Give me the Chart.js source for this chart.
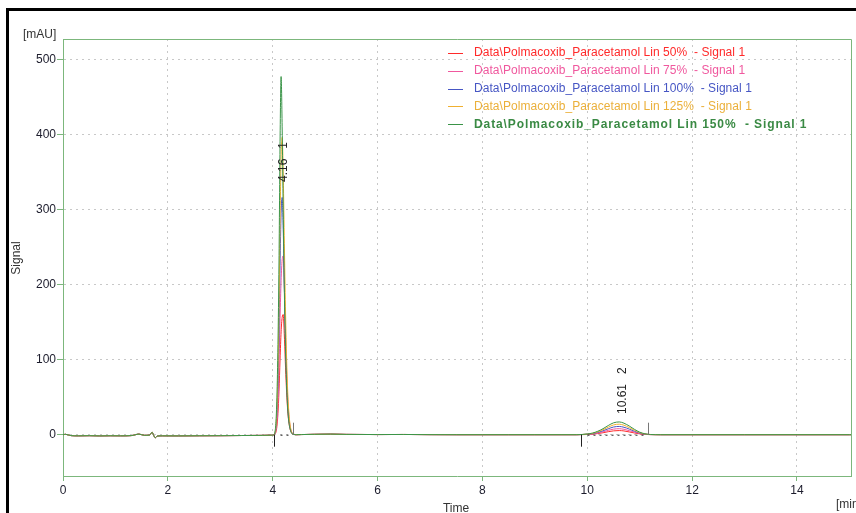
<!DOCTYPE html>
<html>
<head>
<meta charset="utf-8">
<script src="https://cdn.jsdelivr.net/npm/chart.js@4/dist/chart.umd.min.js"></script>
<style>
html,body{margin:0;padding:0;background:#fff;}
#wrap{width:856px;height:513px;position:relative;}
</style>
</head>
<body>
<div id="wrap"><canvas id="c" width="856" height="513"></canvas></div>
<script>
// ---- data ----
const seriesNames = [
  "Data\\Polmacoxib_Paracetamol Lin 50%  - Signal 1",
  "Data\\Polmacoxib_Paracetamol Lin 75%  - Signal 1",
  "Data\\Polmacoxib_Paracetamol Lin 100%  - Signal 1",
  "Data\\Polmacoxib_Paracetamol Lin 125%  - Signal 1",
  "Data\\Polmacoxib_Paracetamol Lin 150%  - Signal 1"
];
const seriesColors = ["#ff2a2a", "#f0589e", "#4656c4", "#f0b030", "#3a9448"];
const legendTextColors = ["#ff2a2a", "#f0589e", "#4656c4", "#ebb03a", "#3a8a44"];

const timesEarly = [0, 0.05, 0.15, 0.3, 0.5, 0.7, 0.9, 1.1, 1.3, 1.45, 1.55, 1.65, 1.7, 1.73, 1.76, 1.8, 1.9, 2.2, 2.6, 3.0, 3.4, 3.8, 3.98];
const baseEarly  = [0, 0.5, -1.2, -1.5, -1.3, -1.6, -1.4, -1.5, -1.2, 0.8, -0.8, -0.5, 3.2, -1, -4, -1.8, -1.5, -1.6, -1.4, -1.3, -1.1, -0.9, -0.6];

const timesPeak1 = [4.00, 4.02, 4.04, 4.06, 4.08, 4.10, 4.12, 4.14, 4.16, 4.18, 4.20, 4.22, 4.24, 4.26, 4.28, 4.30, 4.33, 4.36, 4.40, 4.45];
const peak1Red    = [-0.5, -0.3, 0.5, 3, 11, 28, 58, 100, 137, 156, 160, 135, 98, 64, 38, 21, 8, 2.5, 0.4, 0];
const peak1Pink   = [-0.5, -0.2, 1, 5, 18, 45, 92, 155, 205, 233, 238, 200, 145, 95, 57, 32, 12, 3.5, 0.6, 0];
const peak1Blue   = [-0.5, 0, 1.5, 8, 28, 68, 135, 225, 295, 316, 275, 205, 138, 86, 50, 27, 10, 3, 0.5, 0];
const peak1Yellow = [-0.5, 0, 2, 10, 35, 85, 170, 280, 370, 396, 350, 265, 180, 115, 68, 38, 14, 4, 1, 0];
const peak1Green  = [-0.5, 0, 3, 15, 50, 120, 230, 390, 477, 410, 300, 200, 125, 75, 42, 22, 8, 2, 0.3, 0];

const timesMid = [4.55, 4.8, 5.1, 5.4, 6, 6.5, 7, 7.5, 8, 8.5, 9, 9.5, 9.8];
const baseMid  = [0.2, 0.5, 0.8, 0.4, 0.2, 0.3, 0.1, 0, 0, 0, 0, 0, 0];

const timesPeak2 = [9.9, 10.0, 10.1, 10.2, 10.3, 10.4, 10.5, 10.61, 10.7, 10.8, 10.9, 11.0, 11.1, 11.2];
const peak2Red    = [0.1, 0.3, 0.7, 1.5, 2.6, 4, 5.1, 5.5, 5, 3.7, 2.3, 1.1, 0.4, 0.1];
const peak2Pink   = [0.2, 0.5, 1, 2.2, 3.8, 5.8, 7.4, 8, 7.2, 5.4, 3.4, 1.6, 0.6, 0.2];
const peak2Blue   = [0.2, 0.7, 1.4, 3, 5.2, 7.9, 10.2, 11, 9.9, 7.5, 4.6, 2.2, 0.8, 0.2];
const peak2Yellow = [0.3, 0.8, 1.8, 3.8, 6.6, 10, 13, 14, 12.6, 9.5, 5.9, 2.8, 1, 0.3];
const peak2Green  = [0.3, 1, 2.2, 4.6, 8, 12.2, 15.8, 17, 15.3, 11.6, 7.1, 3.4, 1.2, 0.3];

const timesLate = [11.4, 12, 13, 14, 15, 15.03];
const baseLate  = [0, 0, 0, 0, 0, 0];

const yTicks = [0, 100, 200, 300, 400, 500];
const xTicks = [0, 2, 4, 6, 8, 10, 12, 14];

// peak annotations
const peakApex   = [4.16, 10.61];
const peakLabels = ["4.16", "10.61"];
const peakNums   = ["1", "2"];
const peakStart  = [4.03, 9.88];
const peakEnd    = [4.39, 11.16];

// ---- build datasets ----
const allTimes = timesEarly.concat(timesPeak1, timesMid, timesPeak2, timesLate);
function build(p1, p2) {
  const vals = baseEarly.concat(p1, baseMid, p2, baseLate);
  return allTimes.map((t, i) => ({x: t, y: vals[i]}));
}
const seriesData = [
  build(peak1Red, peak2Red),
  build(peak1Pink, peak2Pink),
  build(peak1Blue, peak2Blue),
  build(peak1Yellow, peak2Yellow),
  build(peak1Green, peak2Green)
];

const AXIS = "#7cb77c";
const FONT = "'Liberation Sans', Arial, sans-serif";

const decor = {
  id: 'decor',
  afterDraw(chart) {
    const ctx = chart.ctx;
    const a = chart.chartArea;
    const xs = chart.scales.x, ys = chart.scales.y;
    ctx.save();
    // outer black frame
    ctx.fillStyle = "#000";
    ctx.fillRect(6, 8, 850, 3);
    ctx.fillRect(6, 8, 3, 505);
    // top & right plot border
    ctx.strokeStyle = AXIS; ctx.lineWidth = 1;
    ctx.beginPath();
    ctx.moveTo(a.left, a.top + 0.5); ctx.lineTo(a.right + 0.5, a.top + 0.5);
    ctx.lineTo(a.right + 0.5, a.bottom);
    ctx.stroke();
    // axis titles
    ctx.fillStyle = "#333";
    ctx.font = "12px " + FONT;
    ctx.textAlign = "left"; ctx.textBaseline = "middle";
    ctx.fillText("[mAU]", 23, 35);
    ctx.fillText("[min", 836, 505);
    ctx.textAlign = "center";
    ctx.fillText("Time", 456, 509);
    ctx.save();
    ctx.translate(17, 258); ctx.rotate(-Math.PI / 2);
    ctx.fillText("Signal", 0, 0);
    ctx.restore();
    // integration markers & labels
    for (let i = 0; i < peakApex.length; i++) {
      const y0 = ys.getPixelForValue(0);
      const xs0 = Math.round(xs.getPixelForValue(peakStart[i])) + 0.5;
      const xe0 = Math.round(xs.getPixelForValue(peakEnd[i])) + 0.5;
      ctx.strokeStyle = "#222"; ctx.lineWidth = 1;
      ctx.beginPath(); ctx.moveTo(xs0, y0); ctx.lineTo(xs0, y0 + 12); ctx.stroke();
      ctx.strokeStyle = "#777";
      ctx.beginPath(); ctx.moveTo(xe0, y0 - 12); ctx.lineTo(xe0, y0); ctx.stroke();
      // dotted baseline
      ctx.strokeStyle = "#222"; ctx.setLineDash([2, 4]);
      ctx.beginPath(); ctx.moveTo(xs0 + 6, y0 + 0.5); ctx.lineTo(xe0 - 4, y0 + 0.5); ctx.stroke();
      ctx.setLineDash([]);
      // rotated label
      const xa = xs.getPixelForValue(peakApex[i]);
      ctx.save();
      ctx.translate(xa + 3, i === 0 ? 182 : 414);
      ctx.rotate(-Math.PI / 2);
      ctx.fillStyle = "#222";
      ctx.font = "12px " + FONT;
      ctx.textAlign = "left"; ctx.textBaseline = "middle";
      ctx.fillText(peakLabels[i], 0, 0);
      const w = ctx.measureText(peakLabels[i]).width;
      ctx.fillText(peakNums[i], w + 10, 0);
      ctx.restore();
    }
    // legend
    for (let i = 0; i < seriesNames.length; i++) {
      const y = 53 + i * 17.8;
      ctx.strokeStyle = seriesColors[i]; ctx.lineWidth = 1;
      ctx.beginPath(); ctx.moveTo(448, Math.round(y) + 0.5); ctx.lineTo(463, Math.round(y) + 0.5); ctx.stroke();
      ctx.fillStyle = legendTextColors[i];
      ctx.textAlign = "left"; ctx.textBaseline = "middle";
      if (i === seriesNames.length - 1) {
        ctx.font = "bold 12px " + FONT;
        ctx.letterSpacing = "0.9px";
      } else {
        ctx.font = "12px " + FONT;
        ctx.letterSpacing = "0.05px";
      }
      ctx.fillText(seriesNames[i], 474, y);
    }
    ctx.letterSpacing = "0px";
    ctx.restore();
  }
};

new Chart(document.getElementById('c'), {
  type: 'line',
  data: {
    datasets: seriesData.map((d, i) => ({
      label: seriesNames[i],
      data: d,
      borderColor: seriesColors[i],
      borderWidth: 1,
      pointRadius: 0,
      fill: false,
      cubicInterpolationMode: 'monotone',
      order: seriesNames.length - i
    }))
  },
  options: {
    responsive: false,
    animation: false,
    devicePixelRatio: 1,
    layout: {padding: {top: 39, right: 5, left: 0, bottom: 0}},
    plugins: {legend: {display: false}, tooltip: {enabled: false}},
    scales: {
      x: {
        type: 'linear', min: 0, max: 15.03,
        afterFit(s) { s.height = 37; },
        afterBuildTicks(s) { s.ticks = xTicks.map(v => ({value: v})); },
        ticks: {color: "#1c1c2c", font: {size: 12, family: FONT}, padding: 2, maxRotation: 0, autoSkip: false},
        grid: {color: "#c8c8c8", tickColor: AXIS, tickLength: 5, tickBorderDash: []},
        border: {color: AXIS, width: 1, dash: [2, 4]}
      },
      y: {
        type: 'linear', min: -55, max: 527,
        afterFit(s) { s.width = 63; },
        afterBuildTicks(s) { s.ticks = yTicks.map(v => ({value: v})); },
        ticks: {color: "#1c1c2c", font: {size: 12, family: FONT}, padding: 1, autoSkip: false},
        grid: {color: "#c8c8c8", tickColor: AXIS, tickLength: 6, tickBorderDash: []},
        border: {color: AXIS, width: 1, dash: [2, 4]}
      }
    }
  },
  plugins: [decor]
});
</script>
</body>
</html>
